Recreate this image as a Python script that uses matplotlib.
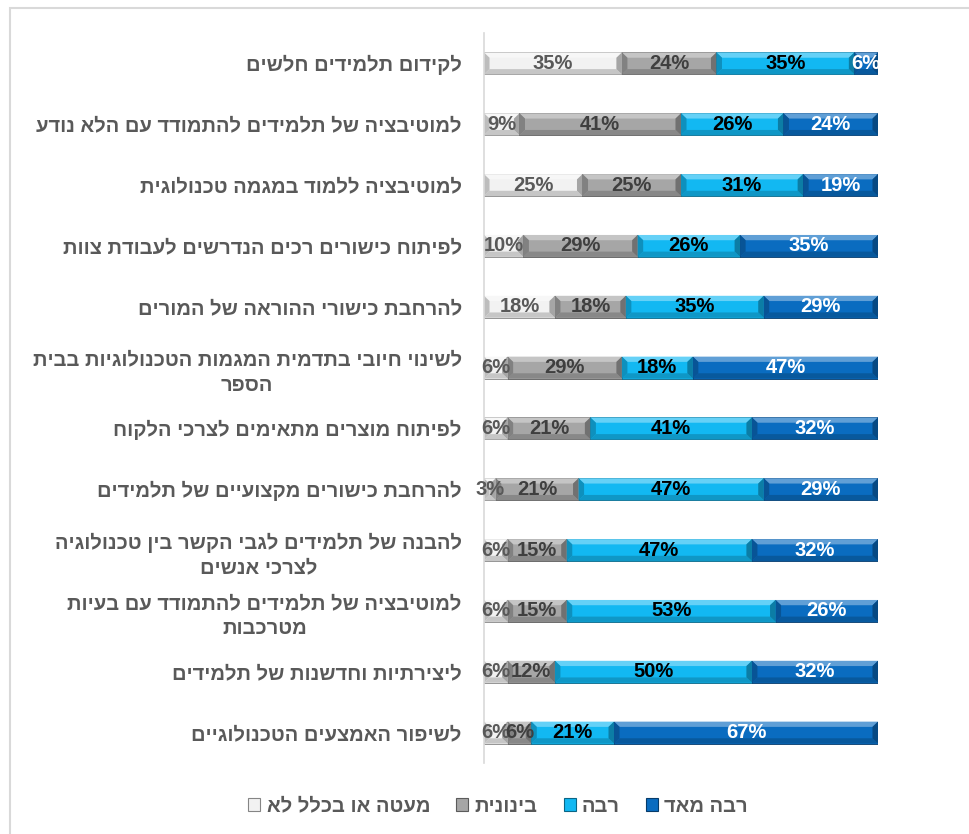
import matplotlib.pyplot as plt
import matplotlib.colors as mcolors
from matplotlib.patches import Polygon, Rectangle, Patch

plt.rcParams['font.family'] = ['Liberation Sans', 'DejaVu Sans']

categories = [
    'לקידום תלמידים חלשים',
    'למוטיבציה של תלמידים להתמודד עם הלא נודע',
    'למוטיבציה ללמוד במגמה טכנולוגית',
    'לפיתוח כישורים רכים הנדרשים לעבודת צוות',
    'להרחבת כישורי ההוראה של המורים',
    'לשינוי חיובי בתדמית המגמות הטכנולוגיות בבית\nהספר',
    'לפיתוח מוצרים מתאימים לצרכי הלקוח',
    'להרחבת כישורים מקצועיים של תלמידים',
    'להבנה של תלמידים לגבי הקשר בין טכנולוגיה\nלצרכי אנשים',
    'למוטיבציה של תלמידים להתמודד עם בעיות\nמטרכבות',
    'ליצירתיות וחדשנות של תלמידים',
    'לשיפור האמצעים הטכנולוגיים',
]
levels = ['מעטה או בכלל לא', 'בינונית', 'רבה', 'רבה מאד']

not_at_all = [35, 9, 25, 10, 18, 6, 6, 3, 6, 6, 6, 6]
moderate = [24, 41, 25, 29, 18, 29, 21, 21, 15, 15, 12, 6]
large = [35, 26, 31, 26, 35, 18, 41, 47, 47, 53, 50, 21]
very_large = [6, 24, 19, 35, 29, 47, 32, 29, 32, 26, 32, 67]

colors = ['#f2f2f2', '#a6a6a6', '#12b8f2', '#0a6cc0']
text_colors = ['#595959', '#3f3f3f', '#000000', '#ffffff']
GRAY = '#595959'


def rtl(s):
    # matplotlib lays text out left to right, so flip each Hebrew line
    return '\n'.join(line[::-1] for line in s.split('\n'))


def shade(c, f):
    rgb = mcolors.to_rgb(c)
    if f >= 0:
        return tuple(v + (1 - v) * f for v in rgb)
    return tuple(v * (1 + f) for v in rgb)


def bevel(ax, bar, color):
    x0, y0 = bar.get_x(), bar.get_y()
    x1, y1 = x0 + bar.get_width(), y0 + bar.get_height()
    bx = min(1.4, bar.get_width() / 2)
    by = bar.get_height() * 0.24
    faces = [
        ([(x0, y0), (x1, y0), (x1 - bx, y0 + by), (x0 + bx, y0 + by)], 0.35),
        ([(x0, y1), (x1, y1), (x1 - bx, y1 - by), (x0 + bx, y1 - by)], -0.18),
        ([(x0, y0), (x0 + bx, y0 + by), (x0 + bx, y1 - by), (x0, y1)], -0.22),
        ([(x1, y0), (x1 - bx, y0 + by), (x1 - bx, y1 - by), (x1, y1)], -0.32),
    ]
    for pts, f in faces:
        ax.add_patch(Polygon(pts, closed=True, facecolor=shade(color, f),
                             edgecolor='none', zorder=2.5))


fig = plt.figure(figsize=(9.7, 8.34), dpi=100)
ax = fig.add_axes([484 / 970, 71 / 834, 394 / 970, 730 / 834])

series = [not_at_all, moderate, large, very_large]
y = list(range(len(categories)))
left = [0] * len(categories)
for vals, col, tcol, name in zip(series, colors, text_colors, levels):
    bars = ax.barh(y, vals, left=left, height=0.36, color=col,
                   edgecolor=shade(col, -0.45), linewidth=0.6, zorder=2,
                   label=rtl(name))
    for b in bars:
        bevel(ax, b, col)
    ax.bar_label(bars, labels=[f'{v}%' for v in vals], label_type='center',
                 color=tcol, fontsize=14.5, fontweight='bold', zorder=4)
    left = [l + v for l, v in zip(left, vals)]

ax.set_xlim(0, 100)
ax.set_ylim(len(categories) - 0.5, -0.5)
ax.set_xticks([])
ax.set_yticks(y, [rtl(c) for c in categories])
ax.tick_params(axis='y', length=0, pad=16, labelsize=14.5, labelcolor=GRAY)
for lbl in ax.get_yticklabels():
    lbl.set_multialignment('center')
    lbl.set_linespacing(1.4)
    lbl.set_fontweight('bold')
for side in ['top', 'right', 'bottom']:
    ax.spines[side].set_visible(False)
ax.spines['left'].set_color('#d9d9d9')
ax.spines['left'].set_linewidth(1.2)

handles = [Patch(facecolor=c, edgecolor=shade(c, -0.45), linewidth=0.8)
           for c in colors]
fig.legend(handles, [rtl(n) for n in levels], loc='center',
           bbox_to_anchor=(498 / 970, 1 - 806 / 834), ncol=4, frameon=False,
           handlelength=0.6, handleheight=0.6, handletextpad=0.3,
           columnspacing=1.3, prop={'size': 14.5, 'weight': 'bold'},
           labelcolor=GRAY)

# chart area border
fig.patches.append(Rectangle((10 / 970, -0.05), 1.0, 1 - 8 / 834 + 0.05,
                             transform=fig.transFigure, fill=False,
                             edgecolor='#d9d9d9', linewidth=1.5))

fig.savefig('out.png', dpi=100)
